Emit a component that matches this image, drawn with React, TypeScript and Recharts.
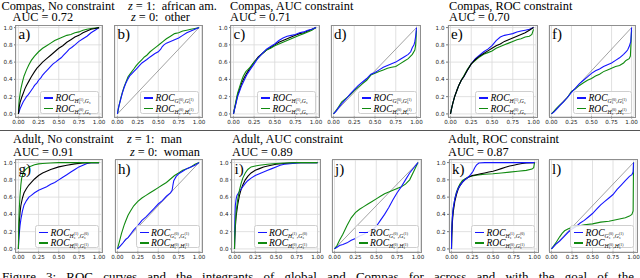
import React from 'react';
import { LineChart, Line, XAxis, YAxis, CartesianGrid } from 'recharts';

type P = [number, number];

// ---------- tick values ----------
const xTicks = [0, 0.25, 0.5, 0.75, 1];
const yTicks = [0, 0.2, 0.4, 0.6, 0.8, 1];
const diagonal: P[] = [[0, 0], [1, 1]];

// ---------- a) Compas, no constraint ----------
const aBlue: P[] = [[0,0],[0.01,0.03],[0.02,0.06],[0.04,0.1],[0.06,0.14],[0.08,0.17],[0.1,0.2],[0.12,0.22],[0.15,0.26],[0.18,0.3],[0.2,0.33],[0.23,0.36],[0.25,0.39],[0.28,0.42],[0.3,0.45],[0.33,0.48],[0.36,0.51],[0.4,0.55],[0.43,0.58],[0.46,0.6],[0.5,0.63],[0.53,0.65],[0.56,0.68],[0.6,0.72],[0.63,0.75],[0.66,0.77],[0.7,0.8],[0.75,0.84],[0.8,0.87],[0.85,0.9],[0.9,0.94],[0.95,0.97],[1,1]];
const aGreen: P[] = [[0,0],[0.005,0.1],[0.01,0.16],[0.02,0.23],[0.03,0.29],[0.05,0.37],[0.07,0.44],[0.1,0.51],[0.13,0.57],[0.16,0.62],[0.2,0.67],[0.25,0.72],[0.3,0.76],[0.35,0.79],[0.4,0.82],[0.45,0.85],[0.5,0.87],[0.55,0.89],[0.6,0.91],[0.65,0.92],[0.7,0.94],[0.75,0.95],[0.8,0.97],[0.85,0.98],[0.9,0.99],[1,1]];
const aBlack: P[] = [[0,0],[0.01,0.08],[0.02,0.13],[0.04,0.19],[0.06,0.24],[0.08,0.29],[0.1,0.33],[0.13,0.38],[0.16,0.43],[0.2,0.49],[0.23,0.53],[0.26,0.56],[0.3,0.6],[0.35,0.64],[0.4,0.68],[0.45,0.72],[0.5,0.76],[0.55,0.79],[0.6,0.83],[0.65,0.86],[0.7,0.89],[0.75,0.91],[0.8,0.94],[0.85,0.96],[0.9,0.98],[0.95,0.99],[1,1]];

// ---------- b) ----------
const bBlue: P[] = [[0,0],[0.01,0.06],[0.02,0.1],[0.04,0.17],[0.06,0.24],[0.08,0.3],[0.1,0.35],[0.12,0.39],[0.15,0.44],[0.18,0.47],[0.2,0.49],[0.23,0.52],[0.25,0.54],[0.28,0.57],[0.3,0.59],[0.33,0.61],[0.36,0.63],[0.4,0.66],[0.43,0.68],[0.46,0.7],[0.5,0.72],[0.53,0.75],[0.55,0.78],[0.57,0.8],[0.6,0.82],[0.65,0.84],[0.7,0.86],[0.75,0.88],[0.8,0.91],[0.85,0.94],[0.9,0.96],[0.95,0.98],[1,1]];
const bGreen: P[] = [[0,0],[0.01,0.05],[0.02,0.1],[0.04,0.18],[0.06,0.25],[0.08,0.31],[0.1,0.36],[0.13,0.43],[0.16,0.47],[0.2,0.52],[0.23,0.56],[0.26,0.59],[0.3,0.63],[0.33,0.66],[0.36,0.68],[0.4,0.72],[0.44,0.75],[0.48,0.78],[0.52,0.81],[0.56,0.84],[0.6,0.87],[0.65,0.9],[0.7,0.93],[0.75,0.94],[0.8,0.96],[0.85,0.97],[0.9,0.98],[0.95,0.99],[1,1]];

// ---------- c) Compas, AUC constraint ----------
const cBlue: P[] = [[0,0],[0.01,0.04],[0.03,0.12],[0.05,0.2],[0.08,0.28],[0.1,0.33],[0.13,0.39],[0.16,0.45],[0.2,0.51],[0.25,0.58],[0.3,0.65],[0.35,0.7],[0.4,0.75],[0.45,0.78],[0.5,0.81],[0.55,0.85],[0.6,0.88],[0.65,0.9],[0.7,0.91],[0.75,0.92],[0.8,0.94],[0.85,0.95],[0.9,0.97],[0.95,0.98],[1,1]];
const cGreen: P[] = [[0,0],[0.01,0.05],[0.03,0.15],[0.05,0.24],[0.08,0.33],[0.1,0.39],[0.12,0.44],[0.15,0.49],[0.18,0.52],[0.2,0.54],[0.25,0.6],[0.3,0.65],[0.35,0.7],[0.4,0.74],[0.45,0.76],[0.5,0.79],[0.55,0.81],[0.6,0.83],[0.65,0.85],[0.7,0.87],[0.75,0.89],[0.8,0.91],[0.85,0.93],[0.9,0.95],[0.95,0.97],[1,1]];
const cBlack: P[] = [[0,0],[0.01,0.05],[0.03,0.13],[0.05,0.22],[0.08,0.3],[0.1,0.36],[0.13,0.42],[0.16,0.47],[0.2,0.53],[0.25,0.6],[0.3,0.66],[0.35,0.7],[0.4,0.74],[0.45,0.77],[0.5,0.8],[0.55,0.83],[0.6,0.85],[0.65,0.87],[0.7,0.89],[0.75,0.91],[0.8,0.93],[0.85,0.94],[0.9,0.96],[0.95,0.98],[1,1]];

// ---------- d) ----------
const dBlue: P[] = [[0,0],[0.03,0.03],[0.06,0.07],[0.1,0.12],[0.15,0.17],[0.2,0.23],[0.25,0.28],[0.3,0.33],[0.35,0.37],[0.4,0.41],[0.45,0.46],[0.5,0.48],[0.55,0.51],[0.6,0.54],[0.65,0.56],[0.7,0.58],[0.75,0.6],[0.8,0.63],[0.85,0.66],[0.9,0.69],[0.93,0.72],[0.95,0.77],[0.97,0.8],[0.98,0.84],[0.99,0.9],[1,1]];
const dGreen: P[] = [[0,0],[0.03,0.04],[0.06,0.08],[0.1,0.14],[0.15,0.18],[0.2,0.22],[0.25,0.27],[0.3,0.31],[0.35,0.35],[0.4,0.39],[0.45,0.45],[0.5,0.47],[0.55,0.49],[0.6,0.51],[0.65,0.53],[0.7,0.54],[0.75,0.55],[0.8,0.58],[0.85,0.61],[0.9,0.64],[0.95,0.69],[0.98,0.74],[0.99,0.8],[1,0.97]];

// ---------- e) Compas, ROC constraint ----------
const eBlue: P[] = [[0,0],[0.01,0.05],[0.03,0.13],[0.05,0.2],[0.08,0.28],[0.1,0.33],[0.13,0.39],[0.16,0.43],[0.2,0.5],[0.25,0.58],[0.3,0.64],[0.35,0.68],[0.4,0.72],[0.45,0.75],[0.5,0.79],[0.55,0.85],[0.6,0.89],[0.65,0.91],[0.7,0.92],[0.75,0.93],[0.8,0.95],[0.85,0.96],[0.9,0.97],[0.95,0.98],[1,1]];
const eGreen: P[] = [[0,0],[0.01,0.05],[0.03,0.13],[0.05,0.2],[0.08,0.28],[0.1,0.33],[0.13,0.39],[0.16,0.44],[0.2,0.51],[0.25,0.58],[0.3,0.62],[0.35,0.66],[0.4,0.69],[0.45,0.71],[0.5,0.73],[0.55,0.76],[0.6,0.78],[0.65,0.8],[0.7,0.82],[0.75,0.84],[0.8,0.86],[0.85,0.87],[0.9,0.89],[0.95,0.9],[0.98,0.92],[1,0.98]];
const eBlack: P[] = [[0,0],[0.01,0.05],[0.03,0.13],[0.05,0.2],[0.08,0.28],[0.1,0.33],[0.13,0.39],[0.16,0.43],[0.2,0.5],[0.25,0.58],[0.3,0.63],[0.35,0.67],[0.4,0.7],[0.45,0.73],[0.5,0.76],[0.55,0.79],[0.6,0.81],[0.65,0.84],[0.7,0.86],[0.75,0.88],[0.8,0.9],[0.85,0.92],[0.9,0.94],[0.95,0.97],[1,1]];

// ---------- f) ----------
const fBlue: P[] = [[0,0],[0.03,0.02],[0.06,0.05],[0.1,0.09],[0.15,0.14],[0.2,0.19],[0.25,0.25],[0.3,0.3],[0.35,0.35],[0.4,0.39],[0.45,0.43],[0.5,0.47],[0.55,0.5],[0.6,0.52],[0.65,0.55],[0.7,0.57],[0.75,0.59],[0.8,0.62],[0.85,0.65],[0.9,0.69],[0.93,0.72],[0.95,0.74],[0.97,0.78],[0.99,0.84],[1,1]];
const fGreen: P[] = [[0,0],[0.03,0.03],[0.06,0.06],[0.1,0.1],[0.15,0.14],[0.2,0.19],[0.25,0.26],[0.3,0.29],[0.35,0.33],[0.4,0.36],[0.45,0.39],[0.5,0.41],[0.55,0.44],[0.6,0.46],[0.65,0.49],[0.7,0.51],[0.75,0.53],[0.8,0.55],[0.85,0.56],[0.9,0.59],[0.93,0.62],[0.97,0.64],[0.985,0.67],[1,0.97]];

// ---------- g) Adult, no constraint ----------
const gBlue: P[] = [[0,0],[0.003,0.08],[0.01,0.17],[0.02,0.27],[0.03,0.34],[0.05,0.44],[0.07,0.51],[0.1,0.56],[0.13,0.6],[0.16,0.62],[0.2,0.65],[0.25,0.68],[0.3,0.7],[0.35,0.72],[0.4,0.75],[0.45,0.77],[0.5,0.8],[0.55,0.83],[0.6,0.86],[0.65,0.89],[0.7,0.92],[0.75,0.95],[0.8,0.97],[0.85,0.99],[0.9,1],[1,1]];
const gGreen: P[] = [[0,0],[0.003,0.25],[0.01,0.45],[0.02,0.62],[0.03,0.74],[0.04,0.82],[0.06,0.88],[0.08,0.91],[0.1,0.93],[0.13,0.95],[0.16,0.96],[0.2,0.975],[0.25,0.985],[0.3,0.99],[0.4,0.995],[0.5,1],[1,1]];
const gBlack: P[] = [[0,0],[0.003,0.15],[0.01,0.3],[0.02,0.42],[0.03,0.5],[0.05,0.59],[0.07,0.65],[0.1,0.7],[0.13,0.74],[0.16,0.77],[0.2,0.81],[0.25,0.85],[0.3,0.88],[0.35,0.9],[0.4,0.92],[0.5,0.95],[0.6,0.97],[0.7,0.985],[0.8,0.995],[0.9,1],[1,1]];

// ---------- h) ----------
const hBlue: P[] = [[0,0],[0.03,0.03],[0.06,0.06],[0.1,0.11],[0.13,0.13],[0.16,0.17],[0.2,0.22],[0.25,0.27],[0.3,0.33],[0.35,0.37],[0.4,0.42],[0.45,0.47],[0.5,0.52],[0.55,0.56],[0.6,0.61],[0.65,0.65],[0.67,0.68],[0.68,0.74],[0.69,0.79],[0.72,0.84],[0.75,0.87],[0.8,0.9],[0.85,0.93],[0.9,0.95],[0.95,0.97],[1,1]];
const hGreen: P[] = [[0,0],[0.02,0.07],[0.05,0.18],[0.08,0.27],[0.1,0.32],[0.13,0.39],[0.16,0.44],[0.2,0.5],[0.25,0.55],[0.3,0.59],[0.35,0.62],[0.4,0.65],[0.45,0.68],[0.5,0.71],[0.55,0.74],[0.6,0.77],[0.65,0.81],[0.7,0.85],[0.75,0.88],[0.8,0.91],[0.85,0.93],[0.9,0.95],[0.95,0.98],[1,1]];

// ---------- i) Adult, AUC constraint ----------
const iBlue: P[] = [[0,0],[0.002,0.2],[0.005,0.35],[0.01,0.5],[0.02,0.58],[0.03,0.62],[0.05,0.65],[0.07,0.68],[0.1,0.72],[0.13,0.76],[0.16,0.79],[0.2,0.82],[0.25,0.85],[0.3,0.87],[0.35,0.89],[0.4,0.91],[0.45,0.93],[0.5,0.95],[0.55,0.97],[0.6,0.98],[0.7,0.99],[0.8,1],[1,1]];
const iGreen: P[] = [[0,0],[0.003,0.15],[0.01,0.3],[0.02,0.43],[0.04,0.58],[0.06,0.68],[0.08,0.76],[0.1,0.82],[0.13,0.88],[0.16,0.92],[0.2,0.95],[0.25,0.96],[0.3,0.97],[0.4,0.98],[0.5,0.99],[0.6,0.995],[0.75,1],[1,1]];
const iBlack: P[] = [[0,0],[0.003,0.1],[0.01,0.25],[0.02,0.38],[0.04,0.52],[0.06,0.62],[0.08,0.69],[0.1,0.74],[0.13,0.8],[0.16,0.84],[0.2,0.88],[0.25,0.91],[0.3,0.93],[0.35,0.95],[0.4,0.96],[0.5,0.98],[0.6,0.99],[0.75,1],[1,1]];

// ---------- j) ----------
const jBlue: P[] = [[0,0],[0.03,0.02],[0.06,0.04],[0.1,0.05],[0.15,0.07],[0.2,0.1],[0.25,0.12],[0.3,0.15],[0.35,0.17],[0.4,0.2],[0.45,0.22],[0.5,0.26],[0.55,0.33],[0.6,0.4],[0.65,0.48],[0.7,0.57],[0.75,0.65],[0.8,0.72],[0.85,0.8],[0.9,0.88],[0.95,0.94],[1,1]];
const jGreen: P[] = [[0,0],[0.03,0.04],[0.06,0.1],[0.1,0.17],[0.15,0.27],[0.2,0.36],[0.25,0.42],[0.3,0.46],[0.35,0.49],[0.4,0.52],[0.45,0.55],[0.5,0.58],[0.55,0.61],[0.6,0.64],[0.65,0.66],[0.7,0.68],[0.75,0.7],[0.8,0.72],[0.85,0.75],[0.9,0.8],[0.95,0.9],[1,1]];

// ---------- k) Adult, ROC constraint ----------
const kBlue: P[] = [[0,0],[0.003,0.2],[0.01,0.36],[0.02,0.47],[0.04,0.58],[0.06,0.65],[0.08,0.7],[0.1,0.73],[0.13,0.77],[0.16,0.8],[0.2,0.83],[0.23,0.86],[0.26,0.9],[0.28,0.94],[0.3,0.97],[0.33,0.995],[0.4,1],[1,1]];
const kGreen: P[] = [[0,0],[0.003,0.18],[0.01,0.34],[0.02,0.46],[0.04,0.58],[0.06,0.66],[0.08,0.71],[0.1,0.75],[0.13,0.79],[0.16,0.81],[0.2,0.83],[0.25,0.845],[0.3,0.855],[0.4,0.865],[0.5,0.87],[0.6,0.88],[0.7,0.89],[0.8,0.9],[0.9,0.91],[0.97,0.925],[0.99,0.94],[1,1]];
const kBlack: P[] = [[0,0],[0.003,0.15],[0.01,0.3],[0.02,0.42],[0.04,0.55],[0.06,0.63],[0.08,0.69],[0.1,0.73],[0.13,0.77],[0.16,0.8],[0.2,0.83],[0.25,0.85],[0.3,0.86],[0.35,0.87],[0.4,0.88],[0.45,0.89],[0.5,0.9],[0.55,0.915],[0.6,0.93],[0.65,0.945],[0.7,0.96],[0.75,0.97],[0.8,0.98],[0.85,0.99],[0.9,0.995],[1,1]];

// ---------- l) ----------
const lBlue: P[] = [[0,0],[0.03,0.03],[0.06,0.06],[0.1,0.09],[0.15,0.14],[0.2,0.19],[0.25,0.23],[0.3,0.26],[0.35,0.3],[0.4,0.33],[0.45,0.37],[0.5,0.41],[0.55,0.46],[0.6,0.51],[0.65,0.55],[0.7,0.59],[0.75,0.63],[0.8,0.69],[0.85,0.74],[0.9,0.79],[0.95,0.84],[0.98,0.86],[0.995,0.89],[1,1]];
const lGreen: P[] = [[0,0],[0.03,0.04],[0.06,0.08],[0.1,0.14],[0.13,0.18],[0.16,0.21],[0.2,0.23],[0.25,0.25],[0.3,0.26],[0.4,0.28],[0.5,0.29],[0.6,0.31],[0.7,0.32],[0.8,0.34],[0.9,0.36],[0.95,0.38],[0.98,0.4],[0.995,0.44],[1,1]];

// ---------- legend label keys ----------
type Sym = [string, string]; // base letter, superscript ('' if none)
const legGlobal: [Sym, Sym][] = [[['H', '(1)'], ['G', '']], [['H', '(0)'], ['G', '']]];
const legPair: [Sym, Sym][] = [[['G', '(0)'], ['G', '(1)']], [['H', '(0)'], ['H', '(1)']]];
const legAdult: [Sym, Sym][] = [[['H', '(1)'], ['G', '(0)']], [['H', '(0)'], ['G', '(1)']]];

// ---------- titles ----------
const rowTitles = [
  ['Compas, No constraint', 'AUC = 0.72'],
  ['Compas, AUC constraint', 'AUC = 0.71'],
  ['Compas, ROC constraint', 'AUC = 0.70'],
  ['Adult, No constraint', 'AUC = 0.91'],
  ['Adult, AUC constraint', 'AUC = 0.89'],
  ['Adult, ROC constraint', 'AUC = 0.87'],
];
const groupLabels = [['african am.', 'other'], ['man', 'woman']];
const caption = 'Figure 3: ROC curves and the integrants of global and Compas for across and with the goal of the';

// ---------- styling ----------
const BLUE = '#1515ff';
const GREEN = '#108a10';
const BLACK = '#000000';
const SERIF = '"Liberation Serif", "Times New Roman", serif';
const SANS = '"DejaVu Sans", sans-serif';
const DOM: [number, number] = [-0.03, 1.03];
const TFS = 12.3; // title font size

type Series = { data: P[]; color: string };
type PanelCfg = {
  frame: [number, number, number, number]; // left, top, right, bottom
  showY: boolean;
  label: string;
  diag: boolean;
  series: Series[];
  legend: [Sym, Sym][];
};

const R1T = 25, R1B = 116.5, R2T = 159.5, R2B = 251;

const panels: PanelCfg[] = [
  { frame: [15.5, R1T, 101, R1B], showY: true, label: 'a)', diag: false, legend: legGlobal,
    series: [{ data: aBlue, color: BLUE }, { data: aGreen, color: GREEN }, { data: aBlack, color: BLACK }] },
  { frame: [114.5, R1T, 201, R1B], showY: false, label: 'b)', diag: true, legend: legPair,
    series: [{ data: bGreen, color: GREEN }, { data: bBlue, color: BLUE }] },
  { frame: [230.5, R1T, 318, R1B], showY: true, label: 'c)', diag: false, legend: legGlobal,
    series: [{ data: cBlack, color: BLACK }, { data: cGreen, color: GREEN }, { data: cBlue, color: BLUE }] },
  { frame: [331, R1T, 419, R1B], showY: false, label: 'd)', diag: true, legend: legPair,
    series: [{ data: dGreen, color: GREEN }, { data: dBlue, color: BLUE }] },
  { frame: [448, R1T, 536, R1B], showY: true, label: 'e)', diag: false, legend: legGlobal,
    series: [{ data: eBlue, color: BLUE }, { data: eGreen, color: GREEN }, { data: eBlack, color: BLACK }] },
  { frame: [549, R1T, 634, R1B], showY: false, label: 'f)', diag: true, legend: legPair,
    series: [{ data: fGreen, color: GREEN }, { data: fBlue, color: BLUE }] },
  { frame: [15.5, R2T, 101, R2B], showY: true, label: 'g)', diag: false, legend: legAdult,
    series: [{ data: gBlue, color: BLUE }, { data: gBlack, color: BLACK }, { data: gGreen, color: GREEN }] },
  { frame: [115, R2T, 201.5, R2B], showY: false, label: 'h)', diag: true, legend: legPair,
    series: [{ data: hGreen, color: GREEN }, { data: hBlue, color: BLUE }] },
  { frame: [231.5, R2T, 319.5, R2B], showY: true, label: 'i)', diag: false, legend: legAdult,
    series: [{ data: iBlack, color: BLACK }, { data: iBlue, color: BLUE }, { data: iGreen, color: GREEN }] },
  { frame: [332, R2T, 420.5, R2B], showY: false, label: 'j)', diag: true, legend: legPair,
    series: [{ data: jGreen, color: GREEN }, { data: jBlue, color: BLUE }] },
  { frame: [449, R2T, 537, R2B], showY: true, label: 'k)', diag: false, legend: legAdult,
    series: [{ data: kGreen, color: GREEN }, { data: kBlack, color: BLACK }, { data: kBlue, color: BLUE }] },
  { frame: [549, R2T, 636, R2B], showY: false, label: 'l)', diag: true, legend: legPair,
    series: [{ data: lGreen, color: GREEN }, { data: lBlue, color: BLUE }] },
];

const toXY = (d: P[]) => d.map(([x, y]) => ({ x, y }));

const SymView = ({ s }: { s: Sym }) => (
  <span style={{ whiteSpace: 'nowrap' }}>
    {s[0]}
    <span style={{ display: 'inline-flex', flexDirection: 'column', verticalAlign: 'middle', fontSize: 3.8, lineHeight: '3.6px', fontStyle: 'normal', marginLeft: 0.3 }}>
      <span>{s[1] || '\u00a0'}</span>
      <span style={{ fontStyle: 'italic' }}>s</span>
    </span>
  </span>
);

const LegendLabel = ({ a, b }: { a: Sym; b: Sym }) => (
  <span style={{ fontFamily: SERIF, fontStyle: 'italic', whiteSpace: 'nowrap', lineHeight: '10px' }}>
    <span style={{ fontSize: 9.5 }}>ROC</span>
    <span style={{ fontSize: 5.6, position: 'relative', top: 2.2 }}>
      <SymView s={a} />,<SymView s={b} />
    </span>
  </span>
);

const Panel = ({ cfg }: { cfg: PanelCfg }) => {
  const [L, T, R, B] = cfg.frame;
  const W = R - L;
  const H = B - T;
  const yW = 22;
  const xH = 14;
  const padR = 10;
  const legW = T > 100 ? 64 : 59;
  return (
    <>
      <div style={{ position: 'absolute', left: L - yW, top: T }}>
        <LineChart width={W + yW + padR} height={H + xH} margin={{ top: 0, right: padR, bottom: 0, left: 0 }}>
          <CartesianGrid stroke="#d9d9d9" strokeWidth={0.8} />
          <XAxis type="number" dataKey="x" domain={DOM} ticks={xTicks} interval={0} allowDataOverflow
            height={xH} tickSize={2} tickMargin={1.5} axisLine={false} tickLine={{ stroke: '#444', strokeWidth: 0.7 }}
            tick={{ fontSize: 5.6, fontFamily: SANS, fill: '#222' }} tickFormatter={(v: number) => v.toFixed(2)} />
          <YAxis type="number" dataKey="y" domain={DOM} ticks={yTicks} interval={0} allowDataOverflow
            width={yW} tickSize={2} tickMargin={1.5} axisLine={false} tickLine={{ stroke: '#444', strokeWidth: 0.7 }}
            tick={cfg.showY ? { fontSize: 5.6, fontFamily: SANS, fill: '#222' } : false}
            tickFormatter={(v: number) => v.toFixed(1)} />
          {cfg.diag && (
            <Line data={toXY(diagonal)} dataKey="y" stroke="#8a8a8a" strokeWidth={0.8} dot={false} isAnimationActive={false} />
          )}
          {cfg.series.map((s, i) => (
            <Line key={i} data={toXY(s.data)} dataKey="y" type="linear" stroke={s.color} strokeWidth={1.1}
              dot={false} isAnimationActive={false} />
          ))}
        </LineChart>
      </div>
      {/* frame */}
      <div style={{ position: 'absolute', left: L - 0.5, top: T - 0.5, width: W, height: H, border: '1px solid #8f8f8f', pointerEvents: 'none' }} />
      {/* panel label */}
      <div style={{ position: 'absolute', left: L + 3, top: T + 1, fontFamily: SERIF, fontSize: 15, lineHeight: '16px', color: '#000' }}>
        {cfg.label}
      </div>
      {/* legend */}
      <div style={{
        position: 'absolute', left: R - legW - 2, top: B - 26, width: legW, height: 23,
        background: 'rgba(255,255,255,0.85)', border: '0.8px solid #cfcfcf', borderRadius: 2.5, boxSizing: 'border-box',
        padding: '1px 2px 0 3px',
      }}>
        {cfg.legend.map((pair, i) => (
          <div key={i} style={{ display: 'flex', alignItems: 'center', height: 10.5 }}>
            <span style={{ display: 'inline-block', width: 9, height: 1.5, background: i === 0 ? BLUE : GREEN, marginRight: 2.5 }} />
            <LegendLabel a={pair[0]} b={pair[1]} />
          </div>
        ))}
      </div>
    </>
  );
};

const TextLine = ({ left, top, children }: { left: number; top: number; children: React.ReactNode }) => (
  <div style={{ position: 'absolute', left, top, fontFamily: SERIF, fontSize: TFS, lineHeight: '10px', height: 10, color: '#000', whiteSpace: 'nowrap' }}>
    {children}
  </div>
);

const ZText = ({ v, text }: { v: string; text: string }) => (
  <>
    <i>z</i> = {v}:&nbsp; {text}
  </>
);

export default function App() {
  const r1a = 0.9, r1b = 11.7, r2a = 133.5, r2b = 146.5;
  return (
    <div style={{ position: 'absolute', left: 0, top: 0, width: 640, height: 278, overflow: 'hidden', background: '#fff' }}>
      <TextLine left={1.5} top={r1a}>{rowTitles[0][0]}</TextLine>
      <TextLine left={12.5} top={r1b}>{rowTitles[0][1]}</TextLine>
      <TextLine left={230} top={r1a}>{rowTitles[1][0]}</TextLine>
      <TextLine left={230} top={r1b}>{rowTitles[1][1]}</TextLine>
      <TextLine left={449} top={r1a}>{rowTitles[2][0]}</TextLine>
      <TextLine left={449} top={r1b}>{rowTitles[2][1]}</TextLine>
      <TextLine left={128} top={r1a}><ZText v="1" text={groupLabels[0][0]} /></TextLine>
      <TextLine left={131} top={r1b}><ZText v="0" text={groupLabels[0][1]} /></TextLine>

      <div style={{ position: 'absolute', left: 0, top: 130, width: 640, height: 0, borderTop: '1px solid #555' }} />

      <TextLine left={13} top={r2a}>{rowTitles[3][0]}</TextLine>
      <TextLine left={13} top={r2b}>{rowTitles[3][1]}</TextLine>
      <TextLine left={232} top={r2a}>{rowTitles[4][0]}</TextLine>
      <TextLine left={232} top={r2b}>{rowTitles[4][1]}</TextLine>
      <TextLine left={448} top={r2a}>{rowTitles[5][0]}</TextLine>
      <TextLine left={448} top={r2b}>{rowTitles[5][1]}</TextLine>
      <TextLine left={127} top={r2a}><ZText v="1" text={groupLabels[1][0]} /></TextLine>
      <TextLine left={130} top={r2b}><ZText v="0" text={groupLabels[1][1]} /></TextLine>

      {panels.map((p, i) => <Panel key={i} cfg={p} />)}

      <div style={{ position: 'absolute', left: 2, top: 269.5, width: 632, fontFamily: SERIF, fontSize: 13, lineHeight: '14px', whiteSpace: 'nowrap', textAlign: 'justify', textAlignLast: 'justify' as any }}>
        {caption}
      </div>
    </div>
  );
}
